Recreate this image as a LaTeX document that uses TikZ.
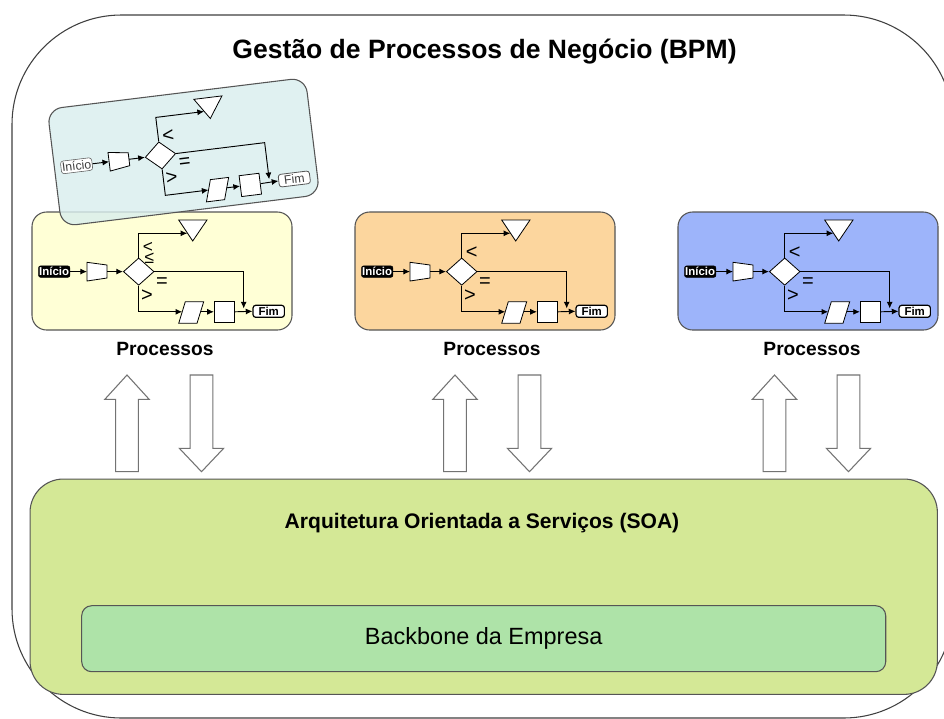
\documentclass[tikz,border=0pt]{standalone}
\usepackage{fontspec}
\setmainfont{Liberation Sans}
\usetikzlibrary{shapes.geometric,arrows.meta}

\definecolor{yelbox}{RGB}{255,255,214}
\definecolor{orabox}{RGB}{252,214,158}
\definecolor{blubox}{RGB}{157,180,250}
\definecolor{cyabox}{RGB}{218,238,238}
\definecolor{soagreen}{RGB}{212,232,150}
\definecolor{bbgreen}{RGB}{174,227,168}
\definecolor{edgegray}{RGB}{85,85,85}

\tikzset{
  procbox/.style={draw=edgegray, line width=0.8pt, rounded corners=11pt, minimum width=195pt, minimum height=88.5pt, inner sep=0pt},
  flw/.style={draw=black, line width=0.7pt, -{Latex[length=5pt,width=4.5pt]}},
  shp/.style={draw=black, line width=0.6pt, fill=white},
  startdark/.style={fill=black, text=white, draw=black, rounded corners=1.5pt, minimum width=23.5pt, minimum height=8.5pt, inner sep=0.3pt, font=\fontsize{8.6}{8.6}\selectfont\bfseries},
  startlight/.style={fill=white, text=black!75, draw=edgegray, rounded corners=2pt, minimum width=23.5pt, minimum height=9.5pt, inner sep=0.3pt, font=\fontsize{9.2}{9.2}\selectfont},
  endbox/.style={fill=white, text=black, draw=black, line width=0.9pt, rounded corners=2pt, minimum width=23.5pt, minimum height=9pt, inner sep=0.3pt, font=\fontsize{8.6}{8.6}\selectfont\bfseries},
  endlight/.style={fill=white, text=black!75, draw=edgegray, line width=0.6pt, rounded corners=2pt, minimum width=23.5pt, minimum height=9.5pt, inner sep=0.3pt, font=\fontsize{9.2}{9.2}\selectfont},
  sym/.style={inner sep=0pt, font=\fontsize{15}{15}\selectfont},
  symsmall/.style={inner sep=0pt, font=\fontsize{13}{13}\selectfont},
  blockarrow/.style={draw=black!55, line width=0.8pt, fill=white},
  lbl/.style={font=\fontsize{14.4}{15}\selectfont\bfseries},
}

% #1 prefix, #2 start style, #3 end style
\newcommand\flowchartbase[3]{%
  \node[#2] (#1ini) at (22.2,59.6) {Início};
  \path[shp] (55,50.3) -- (75,53) -- (75,66) -- (55,69) -- cycle;
  \coordinate (#1trL) at (55,59.6);
  \coordinate (#1trR) at (75,59.6);
  \node[diamond, shp, minimum width=23pt, minimum height=20.5pt, inner sep=0pt] (#1dia) at (106.7,59.6) {};
  \path[shp] (146.7,8) -- (175,8) -- (160.7,29) -- cycle;
  \coordinate (#1tri) at (155.3,21.3);
  \path[shp] (153.3,89.7) -- (171.7,89.7) -- (165,111.3) -- (146.7,111.3) -- cycle;
  \coordinate (#1parL) at (150.2,99.8);
  \coordinate (#1parR) at (168.5,99.8);
  \node[shp, minimum width=15pt, minimum height=15.75pt, inner sep=0pt] (#1rect) at (192.3,99.8) {};
  \node[#3] (#1fim) at (236.7,99.3) {Fim};
  \coordinate (#1join) at (211.7,96.5);
  \draw[flw] (#1ini) -- (#1trL);
  \draw[flw] (#1trR) -- (#1dia.west);
  \draw[flw] (#1dia.north) |- (#1tri);
  \draw[flw] (#1dia.east) -| (#1join);
  \draw[flw] (#1dia.south) |- (#1parL);
  \draw[flw] (#1parR) -- (#1rect.west);
  \draw[flw] (#1rect.east) -- (#1fim.west);
  \node[sym] (#1eq) at (130,70.3) {=};
  \node[sym] (#1gt) at (115,83.7) {>};
}
\newcommand\flowchart[3]{%
  \flowchartbase{#1}{#2}{#3}%
  \node[sym] (#1lt) at (116.7,41) {<};
}

% #1 prefix, #2 up x, #3 down x
\newcommand\updownarrows[3]{%
  \begin{scope}[shift={(#2,0)}]
    \path[blockarrow] (0,375) -- (22.15,399.3) -- (11.35,399.3) -- (11.35,471.7)
      -- (-11.35,471.7) -- (-11.35,399.3) -- (-22.15,399.3) -- cycle;
    \coordinate (#1up) at (0,375);
  \end{scope}
  \begin{scope}[shift={(#3,0)}]
    \path[blockarrow] (-11.35,375) -- (11.35,375) -- (11.35,448.3) -- (22.15,448.3)
      -- (0,471.7) -- (-22.15,448.3) -- (-11.35,448.3) -- cycle;
    \coordinate (#1down) at (0,471.7);
  \end{scope}
}

\begin{document}
\begin{tikzpicture}[x=0.75pt,y=-0.75pt]
  \useasboundingbox (0,0) rectangle (944,718);
  \fill[white] (0,0) rectangle (944,718);

  % outer frame
  \draw[draw=black!75, line width=0.8pt, rounded corners=82pt] (12,15) rectangle (953,718);

  \node[font=\fontsize{19.9}{21}\selectfont\bfseries] (title) at (484.5,52) {Gestão de Processos de Negócio (BPM)};

  % yellow process box
  \node[procbox, fill=yelbox] (ybox) at (162,271) {};
  \begin{scope}[shift={(32,212)}]
    \flowchartbase{y}{startdark}{endbox}
    \node[symsmall] (ylt) at (116,35) {<};
    \node[symsmall] (ylte) at (117.5,46.5) {≤};
  \end{scope}

  % rotated cyan process box
  \begin{scope}[shift={(183.5,152)}, rotate=7, transform shape]
    \node[procbox, fill=cyabox, fill opacity=0.82] (cbox) at (0,0) {};
    \begin{scope}[shift={(-130,-59)}]
      \flowchart{c}{startlight}{endlight}
    \end{scope}
  \end{scope}

  % orange process box
  \node[procbox, fill=orabox] (obox) at (485,271) {};
  \begin{scope}[shift={(355,212)}]
    \flowchart{o}{startdark}{endbox}
  \end{scope}

  % blue process box
  \node[procbox, fill=blubox] (bbox) at (808,271) {};
  \begin{scope}[shift={(678,212)}]
    \flowchart{b}{startdark}{endbox}
  \end{scope}

  \node[lbl] (ylbl) at (165,349) {Processos};
  \node[lbl] (olbl) at (492,349) {Processos};
  \node[lbl] (blbl) at (812,349) {Processos};

  \updownarrows{l}{127}{201.5}
  \updownarrows{m}{455}{529.5}
  \updownarrows{r}{774.5}{848.5}

  % SOA
  \node[draw=edgegray, line width=0.8pt, fill=soagreen, rounded corners=25pt,
        minimum width=680.5pt, minimum height=161.5pt, inner sep=0pt] (soa) at (483.7,586.7) {};
  \node[font=\fontsize{15.8}{16}\selectfont\bfseries] (soalbl) at (482,523) {Arquitetura Orientada a Serviços (SOA)};
  \node[draw=edgegray, line width=0.8pt, fill=bbgreen, rounded corners=7.5pt,
        minimum width=603pt, minimum height=49.5pt, inner sep=0pt,
        font=\fontsize{17.6}{18}\selectfont] (bb) at (483.7,638.7) {Backbone da Empresa};
\end{tikzpicture}
\end{document}
